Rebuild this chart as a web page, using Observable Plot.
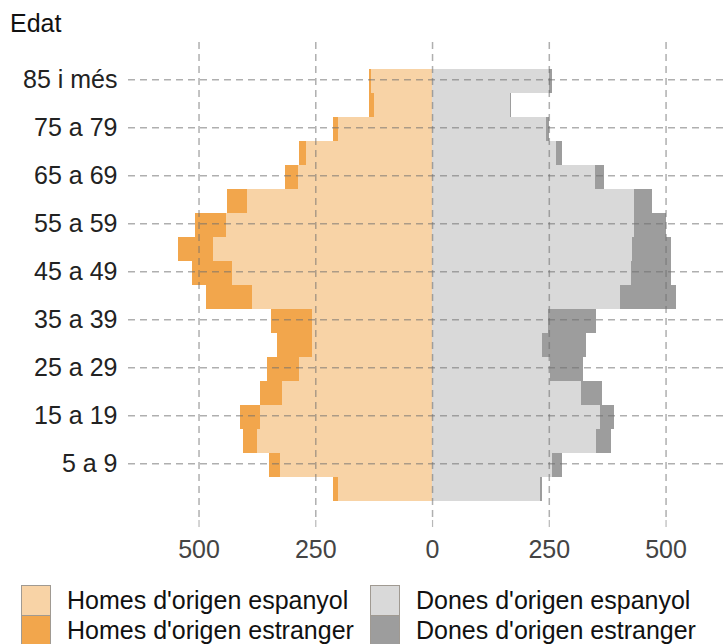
<!DOCTYPE html>
<html><head><meta charset="utf-8">
<script src="https://cdn.jsdelivr.net/npm/d3@7"></script>
<script src="https://cdn.jsdelivr.net/npm/@observablehq/plot@0.6"></script>
<style>
body{margin:0;background:#fff;font-family:"Liberation Sans",Arial,sans-serif;}
#wrap{position:relative;width:723px;height:644px;overflow:hidden;background:#fff;}
#title{position:absolute;left:10px;top:11px;font-size:25px;line-height:25px;color:#111;}
#chart{position:absolute;left:0;top:0;}
.key{position:absolute;width:30px;height:31px;box-sizing:border-box;border:1.5px solid #a09a92;}
.lab{position:absolute;font-size:25px;line-height:30px;color:#111;white-space:nowrap;}
</style></head><body>
<div id="wrap">
  <div id="chart"></div>
  <div id="title">Edat</div>
  <div id="legend"></div>
</div>
<script>
// Age groups, bottom (youngest) to top (oldest)
const ages = ["0 a 4","5 a 9","10 a 14","15 a 19","20 a 24","25 a 29","30 a 34","35 a 39","40 a 44","45 a 49","50 a 54","55 a 59","60 a 64","65 a 69","70 a 74","75 a 79","80 a 84","85 i més"];
const menSpanish   = [202, 326, 374, 368, 322, 284, 258, 258, 386, 429, 468, 441, 396, 288, 270, 202, 125, 131];
const menForeign   = [  9,  23,  30,  44,  46,  69,  73,  86,  99,  86,  77,  66,  42,  26,  14,   9,   9,   3];
const womenSpanish = [232, 257, 351, 360, 318, 253, 236, 249, 402, 425, 429, 433, 433, 348, 266, 245, 166, 250];
const womenForeign = [  4,  21,  33,  30,  46,  71,  94, 103, 121,  86,  82,  68,  38,  20,  13,   6,   4,   7];
const xTicks = [-500, -250, 0, 250, 500];
const yTickLabels = ["5 a 9","15 a 19","25 a 29","35 a 39","45 a 49","55 a 59","65 a 69","75 a 79","85 i més"];
const seriesNames = ["Homes d'origen espanyol","Homes d'origen estranger","Dones d'origen espanyol","Dones d'origen estranger"];
const seriesColors = ["#F8D3A6","#F2A64C","#D9D9D9","#9D9D9D"];

const rows = ages.map((a, i) => ({age: a, i, ms: menSpanish[i], mf: menForeign[i], ws: womenSpanish[i], wf: womenForeign[i]}));
const yTickIdx = yTickLabels.map(l => ages.indexOf(l));

const gridStyle = {stroke: "#6e6e6e", strokeOpacity: 0.55, strokeWidth: 1.5, strokeDasharray: "7,5"};
const rectBase = {y1: d => d.i - 0.5, y2: d => d.i + 0.5, insetTop: 1.7, insetBottom: -1.7, shapeRendering: "crispEdges"};

const chart = Plot.plot({
  width: 723, height: 575,
  marginTop: 42, marginBottom: 55, marginLeft: 128, marginRight: 0,
  x: {domain: [-651, 623]},
  y: {domain: [-1.36, 18.55]},
  style: {fontFamily: "'Liberation Sans', Arial, sans-serif", fontSize: "25px", background: "transparent"},
  marks: [
    Plot.rectX(rows, {...rectBase, x1: d => 0, x2: d => -d.ms, fill: seriesColors[0]}),
    Plot.rectX(rows, {...rectBase, x1: d => -d.ms, x2: d => -(d.ms + d.mf), fill: seriesColors[1]}),
    Plot.rectX(rows, {...rectBase, x1: d => 0, x2: d => d.ws, fill: seriesColors[2]}),
    Plot.rectX(rows, {...rectBase, x1: d => d.ws, x2: d => d.ws + d.wf, fill: seriesColors[3]}),
    Plot.ruleX(xTicks, gridStyle),
    Plot.ruleY(yTickIdx, gridStyle),
    Plot.axisX({ticks: xTicks, tickFormat: d => Math.abs(d), tickSize: 7, tickPadding: 13, stroke: "#b8b8b8", strokeWidth: 1.2, fill: "#444", fontSize: 25, label: null}),
    Plot.axisY({ticks: yTickIdx, tickFormat: i => ages[i], tickSize: 0, tickPadding: 11, fill: "#222", fontSize: 25, label: null})
  ]
});
document.getElementById("chart").appendChild(chart);

// legend (2 columns x 2 rows)
const legend = document.getElementById("legend");
const cols = [{kx: 21, tx: 67}, {kx: 370, tx: 416}];
seriesNames.forEach((name, k) => {
  const c = cols[Math.floor(k / 2)], r = k % 2;
  const key = document.createElement("div");
  key.className = "key";
  key.style.left = c.kx + "px";
  key.style.top = (585 + r * 30) + "px";
  key.style.background = seriesColors[k];
  legend.appendChild(key);
  const lab = document.createElement("div");
  lab.className = "lab";
  lab.style.left = c.tx + "px";
  lab.style.top = (585 + r * 30) + "px";
  lab.textContent = name;
  legend.appendChild(lab);
});
</script>
</body></html>
